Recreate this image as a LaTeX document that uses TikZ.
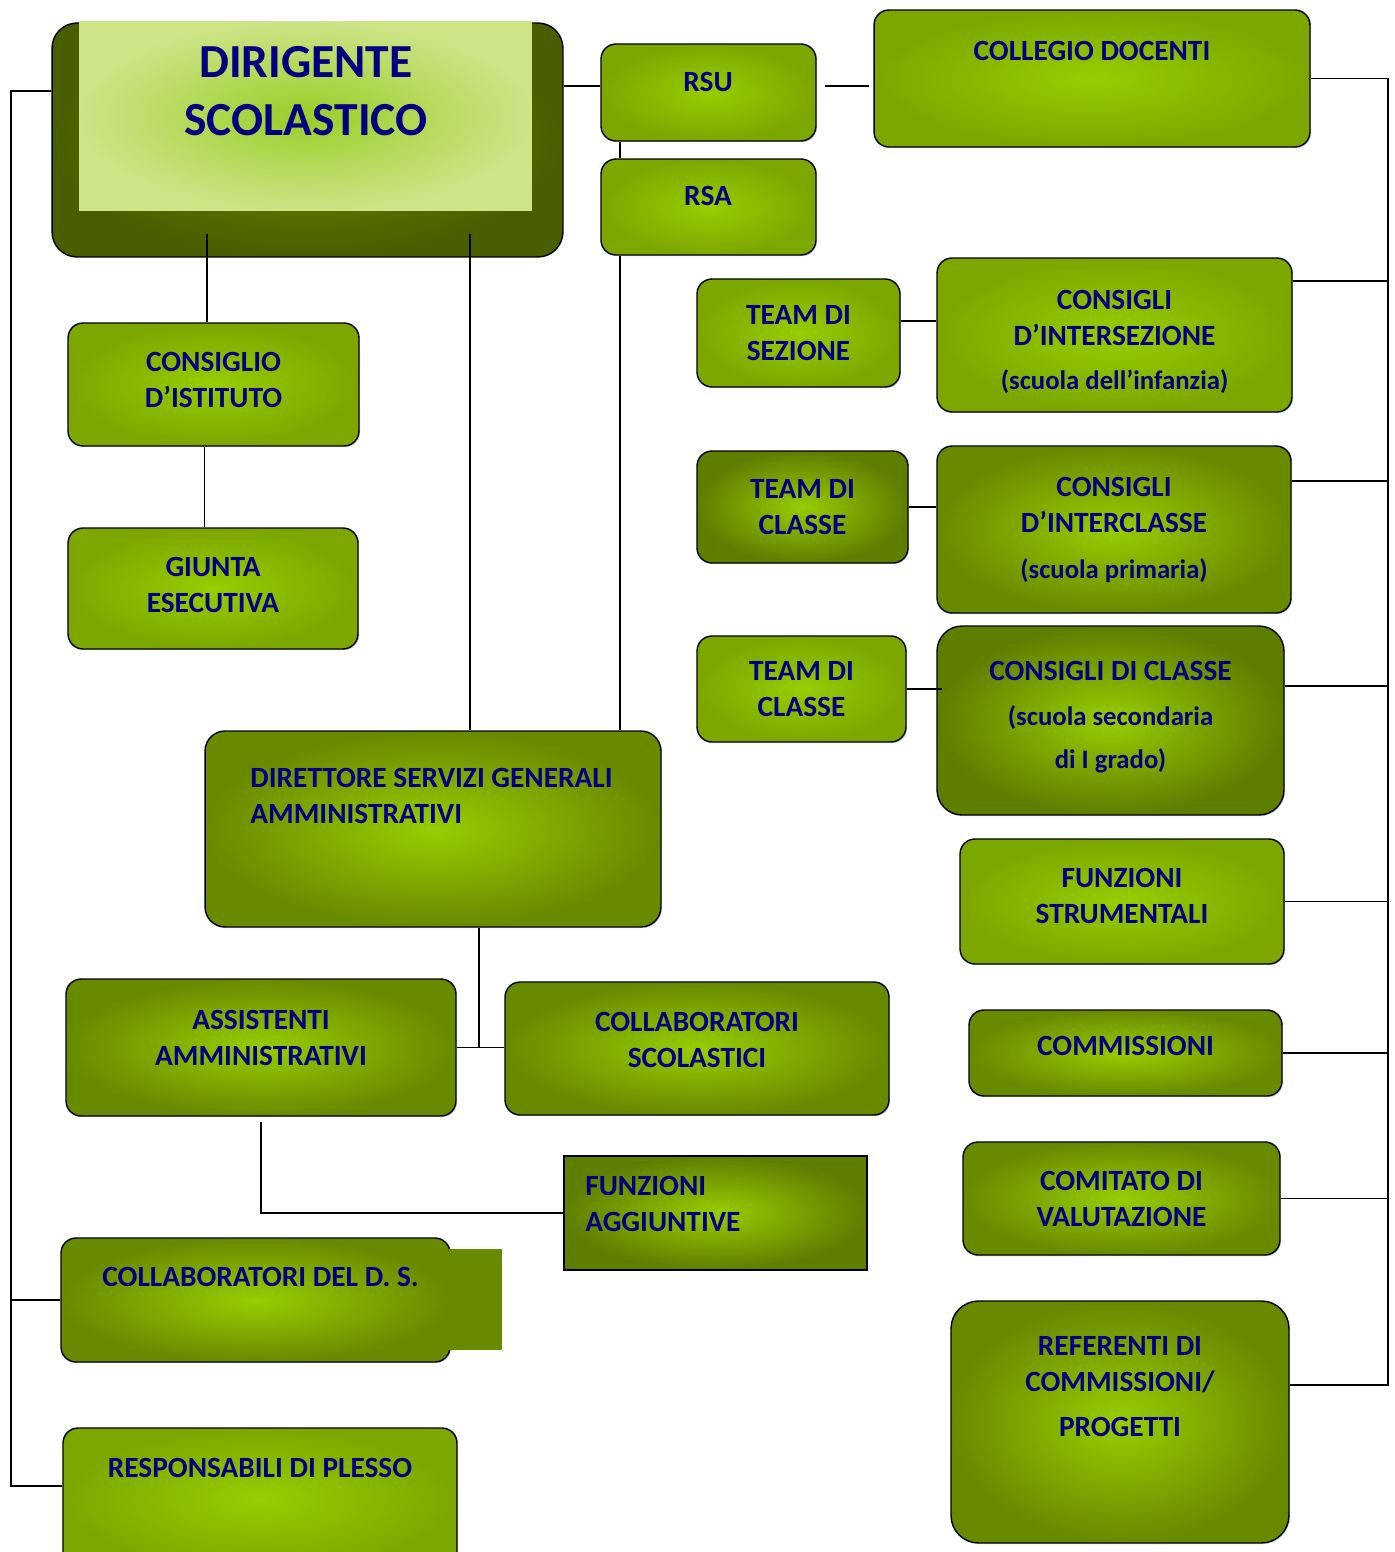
\documentclass[tikz,border=0pt]{standalone}
\usepackage{fontspec}
\setmainfont{Carlito}
\usepackage{tikz}
\usetikzlibrary{positioning, shadows}
\definecolor{boxnavy}{RGB}{0,0,128}
\definecolor{leafglow}{RGB}{153,204,0}
\definecolor{leafedge}{RGB}{124,166,0}
\definecolor{leafdark}{RGB}{104,138,0}
\definecolor{leafdeep}{RGB}{94,126,0}
\definecolor{headpale}{RGB}{205,228,135}
\definecolor{headglow}{RGB}{154,205,40}
\definecolor{headdark}{RGB}{72,94,0}
\definecolor{headmid}{RGB}{108,138,0}
\newcommand{\orgsmall}{\fontsize{15.2}{20.5}\selectfont}
\tikzset{
  orgbox/.style={rectangle, rounded corners=0.3cm, draw=black, line width=0.8pt, inner sep=0pt,
    inner color=leafglow, outer color=leafedge, text=boxnavy, align=center,
    font=\bfseries\fontsize{16.7}{20.5}\selectfont,
    drop shadow={shadow xshift=0.7pt, shadow yshift=-0.7pt, opacity=0.35}},
  orgboxd/.style={orgbox, outer color=leafdark},
  orglbl/.style={text=boxnavy, inner sep=0pt, align=center, font=\bfseries\fontsize{16.7}{20.5}\selectfont},
  wire/.style={draw=black, line width=1pt},
}

\begin{document}
\begin{tikzpicture}[x=0.02cm, y=-0.02cm]
\useasboundingbox (0,0) rectangle (1395,1552);
% dirigente
\node[rectangle, rounded corners=0.5cm, draw=black, line width=0.8pt, inner color=headmid, outer color=headdark, minimum width=10.22cm, minimum height=4.68cm] (dir) at (307.5,140) {};
\node[rectangle, inner sep=0pt, inner color=headglow, outer color=headpale, minimum width=9.06cm, minimum height=3.8cm] (dirin) at (305.5,116) {};
\node[orglbl, font=\bfseries\fontsize{27}{33}\selectfont] (dirt) at (306,91) {DIRIGENTE\\SCOLASTICO};
% rsu, rsa, collegio
\node[orgbox, minimum width=4.3cm, minimum height=1.94cm] (rsu) at (708.5,92.5) {};
\node[orglbl] (rsut) at (708,82) {RSU};
\node[orgbox, minimum width=4.3cm, minimum height=1.92cm] (rsa) at (708.5,207) {};
\node[orglbl] (rsat) at (708,196) {RSA};
\node[orgbox, minimum width=8.72cm, minimum height=2.74cm] (coll) at (1092,78.5) {};
\node[orglbl] (collt) at (1092,51) {COLLEGIO DOCENTI};
% team e consigli
\node[orgbox, minimum width=4.06cm, minimum height=2.16cm] (teamsez) at (798.5,333) {TEAM DI\\SEZIONE};
\node[orgbox, minimum width=7.1cm, minimum height=3.08cm] (consint) at (1114.5,335) {};
\node[orglbl] (consintt) at (1114.5,342) {CONSIGLI\\D’INTERSEZIONE\\[0.16cm]{\orgsmall(scuola dell’infanzia)}};
\node[orgboxd, outer color=leafdeep, minimum width=4.22cm, minimum height=2.24cm] (teamc1) at (802.5,507) {TEAM DI\\CLASSE};
\node[orgboxd, minimum width=7.08cm, minimum height=3.34cm] (consinterc) at (1114,529.5) {CONSIGLI\\D’INTERCLASSE\\[0.2cm]{\orgsmall(scuola primaria)}};
\node[orgbox, minimum width=4.18cm, minimum height=2.12cm] (teamc2) at (801.5,689) {TEAM DI\\CLASSE};
\node[orgboxd, outer color=leafdeep, rounded corners=0.5cm, minimum width=6.94cm, minimum height=3.78cm] (consclasse) at (1110.5,720.5) {};
\node[orglbl] (consclasset) at (1110.5,717) {CONSIGLI DI CLASSE\\[0.18cm]{\orgsmall(scuola secondaria}\\[0.14cm]{\orgsmall di I grado)}};
\node[orgbox, minimum width=6.48cm, minimum height=2.5cm] (funzstr) at (1122,901.5) {};
\node[orglbl] (funzstrt) at (1122,896) {FUNZIONI\\STRUMENTALI};
\node[orgboxd, minimum width=6.26cm, minimum height=1.72cm] (commiss) at (1125.5,1053) {};
\node[orglbl] (commisst) at (1125.5,1046) {COMMISSIONI};
\node[orgboxd, minimum width=6.34cm, minimum height=2.26cm] (comitato) at (1121.5,1198.5) {COMITATO DI\\VALUTAZIONE};
\node[orgboxd, rounded corners=0.55cm, minimum width=6.76cm, minimum height=4.84cm] (referenti) at (1120,1422) {};
\node[orglbl] (referentit) at (1120,1386.5) {REFERENTI DI\\COMMISSIONI/\\[0.18cm]PROGETTI};
% consiglio d'istituto
\node[orgbox, minimum width=5.82cm, minimum height=2.46cm] (cons) at (213.5,384.5) {};
\node[orglbl] (const) at (213.5,380) {CONSIGLIO\\D’ISTITUTO};
\node[orgbox, minimum width=5.8cm, minimum height=2.42cm] (giunta) at (213,588.5) {};
\node[orglbl] (giuntat) at (213,585) {GIUNTA\\ESECUTIVA};
% dsga e personale ata
\node[orgboxd, rounded corners=0.4cm, minimum width=9.12cm, minimum height=3.92cm] (dsga) at (433,829) {};
\node[orglbl, anchor=north west, align=left] (dsgat) at (250,768) {DIRETTORE SERVIZI GENERALI\\AMMINISTRATIVI};
\node[orgboxd, minimum width=7.8cm, minimum height=2.74cm] (assist) at (261,1047.5) {};
\node[orglbl] (assistt) at (261,1038) {ASSISTENTI\\AMMINISTRATIVI};
\node[orgboxd, minimum width=7.68cm, minimum height=2.66cm] (collab) at (697,1048.5) {};
\node[orglbl] (collabt) at (697,1040) {COLLABORATORI\\SCOLASTICI};
\node[orgboxd, outer color=leafdeep, sharp corners, minimum width=6.06cm, minimum height=2.28cm] (funzagg) at (715.5,1213) {};
\node[orglbl, anchor=north west, align=left] (funzaggt) at (585,1176) {FUNZIONI\\AGGIUNTIVE};
% collaboratori e responsabili
\node[orgboxd, minimum width=7.78cm, minimum height=2.48cm] (collabds) at (255.5,1300) {};
\fill[leafdark] (449,1249) rectangle (502,1350);
\node[orglbl, anchor=west] (collabdst) at (102,1277) {COLLABORATORI DEL D. S.};
\node[orgbox, minimum width=7.88cm, minimum height=2.84cm] (resp) at (260,1499) {};
\node[orglbl] (respt) at (260,1468) {RESPONSABILI DI PLESSO};
% left side
\coordinate (ltop) at (11,91);
\coordinate (lbot) at (11,1486);
\draw[wire] (dir.west |- ltop) -- (ltop) -- (lbot) -- (lbot -| resp.west);
\draw[wire] (ltop |- collabds.west) -- (collabds.west);
% top links
\draw[wire] ([yshift=0.13cm]rsu.west) -- ([yshift=0.13cm]rsu.west -| dir.east);
\draw[wire] ([xshift=0.16cm, yshift=0.13cm]rsu.east) -- ([xshift=-0.08cm, yshift=0.13cm]rsu.east -| coll.west);
\draw[wire] ([xshift=0.4cm]rsu.south west) -- ([xshift=0.4cm]rsa.north west);
\draw[wire] ([xshift=0.4cm]rsa.south west) -- ([xshift=0.4cm]rsa.south west |- dsga.north);
\draw[wire] ([xshift=-0.13cm]cons.north) -- ([xshift=-0.13cm, yshift=0.48cm]cons.north |- dir.south);
\draw[wire] ([xshift=5.32cm]dsga.north west) -- ([xshift=5.32cm, yshift=0.48cm]dsga.north west |- dir.south);
\draw[wire] ([xshift=-0.18cm]cons.south) -- ([xshift=-0.18cm]cons.south |- giunta.north);
% ata
\draw[wire] ([xshift=0.92cm]dsga.south) -- ([xshift=0.92cm]dsga.south |- assist.east);
\draw[wire] (assist.east) -- (collab.west |- assist.east);
\draw[wire] ([yshift=-0.1cm]assist.south) |- (funzagg.west);
% team links
\draw[wire] ([yshift=0.24cm]teamsez.east) -- ([yshift=0.24cm]teamsez.east -| consint.west);
\draw[wire] (teamc1.east) -- (teamc1.east -| consinterc.west);
\draw[wire] (teamc2.east) -- ([xshift=0.12cm]teamc2.east -| consclasse.west);
% right side
\coordinate (rtop) at (1388,80);
\coordinate (rbot) at (1388,1385);
\draw[wire] (coll.east) -- (coll.east -| rtop) -- (rbot) -- (rbot -| referenti.east);
\foreach \n/\dy in {consint/1.08, consinterc/0.97, consclasse/0.69, funzstr/0, commiss/0, comitato/0}
  \draw[wire] ([yshift=\dy*1cm]\n.east) -- ([yshift=\dy*1cm]\n.east -| rtop);
\end{tikzpicture}
\end{document}
